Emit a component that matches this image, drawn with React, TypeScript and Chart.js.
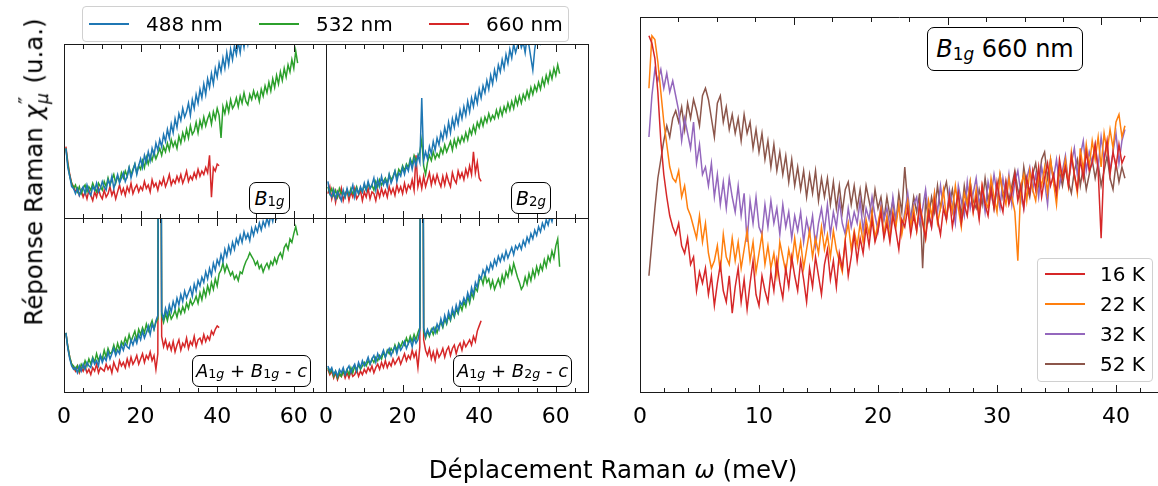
import React, { useEffect, useRef } from "react";
import { Chart, registerables } from "chart.js";

Chart.register(...registerables);

// ---------------- data ----------------
// left panels : x = LEFT_X_START + i * LEFT_X_STEP (meV), y in arbitrary units (0..100 = panel height)
const LEFT_X_START = 0.5;
const LEFT_X_STEP = 0.5;
// right panel : x = RIGHT_X_START + i * RIGHT_X_STEP (meV)
const RIGHT_X_START = 0.75;
const RIGHT_X_STEP = 0.25;

// Panel B1g
const b1g488 = [
  40,29,24,18,17,14,17,13,16,18, 14,19,15,13,18,16,20,15,17,21,
  18,16,22,19,24,17,21,25,20,23, 26,21,24,29,23,27,31,25,30,34,
  29,36,32,38,33,40,36,43,39,45, 41,48,44,51,46,54,49,57,52,60,
  56,63,58,61,66,59,68,63,71,66, 74,69,77,71,80,75,83,77,86,81,
  89,84,92,86,95,88,97,91,99,94, 101,95,104,98,106,100,108,103,110,105,112,107,114,109,
];
const b1g532 = [
  40,31,24,20,17,19,15,18,14,17, 19,15,18,16,20,17,15,20,18,16,
  21,18,23,19,22,25,20,24,21,26, 23,27,24,29,25,28,31,26,30,28,
  33,29,35,31,36,33,38,34,37,40, 36,41,38,43,39,45,41,44,40,47,
  43,49,45,51,46,53,48,50,55,49, 56,52,58,53,57,60,54,61,57,63,
  59,46,64,60,66,61,68,63,65,69, 64,70,66,72,67,65,71,68,73,69,
  72,67,74,70,76,72,78,73,80,75, 82,77,84,79,86,81,88,84,91,86,96,89,
];
const b1g660 = [
  41,32,25,20,18,15,17,13,16,12, 15,11,16,13,10,15,12,17,13,11,
  16,12,14,18,13,16,11,15,19,14, 17,13,18,15,20,14,17,19,15,18,
  16,21,17,19,15,22,18,20,16,21, 19,23,18,21,25,19,22,20,24,21,
  25,20,23,27,21,24,22,26,23,28, 24,27,25,29,26,36,12,29,27,31,30,
];

// Panel B2g
const b2g488 = [
  21,14,12,16,11,15,13,10,16,12, 17,13,15,19,12,17,14,18,15,20,
  16,21,17,19,23,16,22,18,24,19, 22,18,25,20,23,27,21,26,24,29,
  25,30,27,33,28,34,30,36,32,69, 33,38,34,41,37,44,39,46,42,49,
  45,52,47,55,49,57,52,59,54,62, 57,64,59,67,61,69,64,71,66,74,
  69,76,72,79,74,82,77,85,80,88, 84,91,86,94,89,97,92,100,95,99,
  103,98,101,95,104,99,92,85,97,104, 106,101,108,104,
];
const b2g532 = [
  18,14,17,13,16,12,17,14,15,12, 16,13,17,14,15,18,14,17,15,19,
  16,20,17,19,16,21,18,22,19,21, 23,20,25,22,24,27,23,28,26,30,
  27,31,29,34,31,36,33,35,38,45, 30,25,32,36,33,38,34,37,35,40,
  37,42,38,41,44,39,45,41,46,43, 47,44,49,45,51,48,53,49,55,52,
  57,53,58,55,60,56,59,57,62,58, 63,59,64,61,66,62,67,63,69,65,
  70,66,71,68,73,69,75,71,76,73, 78,74,80,76,82,78,84,80,86,82,88,83,
];
const b2g660 = [
  14,18,11,16,9,15,12,17,10,14, 16,10,15,12,17,11,13,16,10,15,
  12,17,11,15,14,10,16,12,17,13, 16,12,18,14,17,13,19,15,18,14,
  20,15,19,17,22,16,36,18,23,17, 24,18,22,26,19,24,20,25,21,18,
  24,19,25,21,18,26,22,20,27,23, 26,22,28,24,30,25,38,26,32,23,21,
];

// Panel A1g + B1g - c
const a1b1488 = [
  34,25,19,15,13,14,11,15,12,16, 13,17,15,14,19,16,18,15,21,17,
  20,18,23,19,22,25,21,24,22,27, 24,28,26,25,30,27,31,28,33,30,
  35,31,34,38,33,39,36,41,44,400, 46,42,48,44,50,46,52,48,54,50,
  56,52,58,54,57,60,55,62,58,64, 61,66,63,69,65,71,67,74,70,76,
  73,79,75,82,78,84,80,86,82,88, 85,90,86,92,88,91,87,94,90,95,
  92,97,93,98,95,100,96,102,98,104, 100,106,102,108,
];
const a1b1532 = [
  34,26,20,16,15,13,15,12,16,14, 18,15,19,16,20,17,22,18,21,19,
  24,20,25,22,23,27,23,28,24,29, 27,31,28,33,29,32,35,30,36,33,
  37,34,39,35,38,41,36,40,42,400, 44,40,45,41,46,42,44,47,43,48,
  45,49,46,51,48,53,50,52,55,51, 57,53,59,55,61,57,63,59,65,61,
  68,70,74,69,73,70,67,69,65,67, 64,69,68,72,75,77,80,78,76,73,
  75,71,73,69,72,74,71,75,73,77, 74,78,80,77,83,85,82,88,86,91,95,90,
];
const a1b1660 = [
  34,26,20,16,14,12,15,11,14,12, 15,11,13,10,14,12,16,11,14,13,
  12,16,13,15,11,17,14,12,18,15, 17,14,19,15,20,16,18,21,16,19,
  22,17,21,19,23,18,21,13,22,400, 32,26,30,25,28,24,29,23,27,30,
  24,28,26,31,25,29,27,32,26,30, 31,28,33,29,32,30,35,33,36,38,37,
];

// Panel A1g + B2g - c
const a1b2488 = [
  15,12,14,10,12,9,13,11,14,10, 13,15,11,14,16,12,17,14,18,15,
  17,20,16,19,21,17,22,19,21,24, 20,23,25,21,24,26,22,27,24,26,
  29,25,28,30,26,31,28,30,36,400, 37,32,36,33,35,37,34,39,36,42,
  38,44,40,46,42,48,44,50,46,52, 50,54,51,57,53,60,56,63,60,67,
  65,70,67,72,69,74,71,76,73,78, 75,79,76,81,77,80,83,79,84,82,
  85,82,87,84,89,86,91,88,93,90, 95,92,97,94,99,96,101,98,103,100,
];
const a1b2532 = [
  14,11,13,9,12,8,11,9,12,10, 13,10,14,11,15,12,16,13,15,17,
  15,18,16,19,17,20,18,21,19,23, 20,24,22,25,23,27,24,28,26,29,
  27,31,28,32,29,33,30,34,37,400, 35,31,35,32,36,33,37,34,38,40,
  37,42,39,44,41,46,43,48,45,50, 47,52,49,55,51,57,54,60,58,64,
  66,62,68,63,65,60,64,59,62,65, 61,67,63,69,66,72,68,74,70,66,
  63,59,61,66,62,68,64,70,66,72, 68,73,70,76,72,78,75,81,77,84,88,72,
];
const a1b2660 = [
  13,10,12,8,11,7,10,9,12,8, 11,8,12,9,10,13,9,12,10,13,
  11,14,12,15,11,14,16,13,17,14, 18,14,17,15,19,16,18,20,16,19,
  22,18,21,19,24,20,23,14,26,400, 30,24,21,25,19,23,18,24,20,22,
  25,20,24,26,21,25,27,22,26,28, 24,29,26,28,30,27,32,29,35,38,41,
];

// Right panel, B1g 660 nm, temperatures
const t16K = [
  95,93,89,80,67,58,52,47,44,42, 45,39,37,41,34,36,27,32,29,33,
  26,31,23,29,34,27,24,31,21,28, 33,24,30,22,29,35,26,23,31,27,
  24,32,27,35,29,25,33,28,36,31, 27,35,30,24,33,28,36,31,26,34,
  38,30,35,28,37,33,40,31,36,42, 35,41,37,44,39,46,40,43,48,41,
  45,40,47,43,38,46,44,49,42,47, 43,50,45,41,48,44,51,46,42,49,
  46,52,44,49,53,45,50,47,54,48, 52,46,55,50,47,54,49,56,51,48,
  56,50,53,58,51,55,49,57,53,59, 54,60,52,57,61,55,58,53,62,57,
  60,55,63,58,54,62,57,64,59,61, 66,59,41,62,67,58,64,60,66,61,63,
];
const t22K = [
  81,95,94,88,80,72,66,60,57,56, 59,52,55,49,47,44,41,47,40,45,
  37,33,35,39,32,42,36,34,41,35, 40,33,38,43,35,40,32,37,42,34,
  39,33,37,31,40,36,32,38,34,41, 35,40,33,38,43,36,41,37,44,38,
  42,36,43,38,35,32,41,45,38,43, 39,45,40,46,42,48,41,45,49,42,
  47,41,48,44,50,42,47,51,44,49, 43,50,46,41,51,47,53,45,49,54,
  46,52,48,55,49,44,53,50,56,48, 54,47,55,51,49,57,52,48,58,53,
  50,57,52,48,35,55,58,51,59,54, 51,58,55,60,53,62,56,50,60,57,
  62,55,64,58,53,65,59,66,60,67, 62,68,60,69,64,70,65,72,74,68,71,
];
const t32K = [
  68,79,86,83,86,81,85,80,83,79, 75,67,73,69,65,72,61,66,58,60,
  55,61,52,58,50,56,49,57,52,48, 55,47,53,40,51,45,52,44,42,50,
  44,51,45,49,42,50,44,48,41,47, 43,48,40,46,42,47,39,45,49,43,
  50,42,48,44,51,45,42,49,44,48, 45,51,43,49,46,52,47,43,50,46,
  49,44,52,46,50,43,48,53,46,50, 52,45,49,54,47,44,53,48,55,49,
  46,54,50,45,55,51,47,56,49,53, 57,50,54,48,56,52,58,53,49,57,
  52,58,50,56,59,53,49,57,60,54, 58,52,60,56,50,61,57,62,55,59,
  63,56,61,65,58,63,67,59,64,61, 66,60,68,62,66,59,64,69,61,67,70,
];
const t52K = [
  31,40,49,57,62,67,71,68,73,75, 72,76,70,77,73,78,75,71,79,81,
  78,73,68,77,79,72,76,70,74,69, 73,67,74,69,72,65,70,64,69,62,
  67,60,66,59,64,58,63,56,62,55, 60,54,59,52,58,53,59,51,57,52,
  57,50,56,49,55,48,54,56,50,55, 49,54,48,55,51,47,54,49,52,46,
  52,47,51,45,53,48,60,50,46,52, 48,53,33,51,46,52,48,55,49,53,
  56,50,54,48,53,47,55,50,56,51, 49,54,50,57,51,55,49,54,58,52,
  56,51,55,59,54,51,60,55,52,58, 61,55,62,64,57,62,56,53,59,55,
  60,56,53,59,62,55,60,54,58,62, 57,61,55,59,63,57,54,61,56,60,57,
];

// ticks
const LEFT_MAJOR_TICKS = [0, 20, 40, 60];
const LEFT_MINOR_TICKS = [5, 10, 15, 25, 30, 35, 45, 50, 55, 65];
const LEFT_TICK_LABELS = ["0", "20", "40", "60"];
const RIGHT_MAJOR_TICKS = [0, 10, 20, 30, 40];
const RIGHT_MINOR_TICKS = [2, 4, 6, 8, 12, 14, 16, 18, 22, 24, 26, 28, 32, 34, 36, 38, 42];
const RIGHT_TICK_LABELS = ["0", "10", "20", "30", "40"];
const RIGHT_TOP_MAJOR_K = [0, 150, 300, 450];
const RIGHT_TOP_MINOR_K = [37.5, 75, 112.5, 187.5, 225, 262.5, 337.5, 375, 412.5, 487.5];
const K_TO_MEV = 0.08617;

const WAVELENGTHS = ["488 nm", "532 nm", "660 nm"];
const TEMPERATURES = ["16 K", "22 K", "32 K", "52 K"];

// ---------------- style ----------------
const W = 1158;
const H = 486;
const FONT = '"DejaVu Sans", "Liberation Sans", sans-serif';
const C_BLUE = "#1f77b4";
const C_GREEN = "#2ca02c";
const C_RED = "#d62728";
const C_ORANGE = "#ff7f0e";
const C_PURPLE = "#9467bd";
const C_BROWN = "#8c564b";

const framePlugin = {
  id: "frame",
  afterDraw(chart: any, _args: any, opts: any) {
    const { ctx, chartArea } = chart;
    const xs = chart.scales.x;
    const l = Math.round(chartArea.left);
    const r = Math.round(chartArea.right);
    const t = Math.round(chartArea.top);
    const b = Math.round(chartArea.bottom);
    ctx.save();
    ctx.strokeStyle = "#1a1a1a";
    ctx.lineWidth = 1;
    ctx.beginPath();
    if (opts.spines.top) { ctx.moveTo(l, t + 0.5); ctx.lineTo(r + 1, t + 0.5); }
    if (opts.spines.bottom) { ctx.moveTo(l, b + 0.5); ctx.lineTo(r + 1, b + 0.5); }
    if (opts.spines.left) { ctx.moveTo(l + 0.5, t); ctx.lineTo(l + 0.5, b + 1); }
    if (opts.spines.right) { ctx.moveTo(r + 0.5, t); ctx.lineTo(r + 0.5, b + 1); }
    const tick = (v: number, len: number, top: boolean) => {
      const px = Math.round(xs.getPixelForValue(v)) + 0.5;
      if (px < l || px > r + 1) return;
      if (top) { ctx.moveTo(px, t); ctx.lineTo(px, t + len); }
      else { ctx.moveTo(px, b + 1); ctx.lineTo(px, b + 1 - len); }
    };
    (opts.bottomMajor || []).forEach((v: number) => tick(v, 8, false));
    (opts.bottomMinor || []).forEach((v: number) => tick(v, 5, false));
    (opts.topMajor || []).forEach((v: number) => tick(v, 8, true));
    (opts.topMinor || []).forEach((v: number) => tick(v, 5, true));
    ctx.stroke();
    if (opts.labels) {
      ctx.fillStyle = "#000";
      ctx.font = `22px ${FONT}`;
      ctx.textAlign = "center";
      ctx.textBaseline = "alphabetic";
      opts.labels.values.forEach((v: number, i: number) => {
        ctx.fillText(opts.labels.texts[i], xs.getPixelForValue(v), 423);
      });
    }
    ctx.restore();
  },
};

type Series = { data: number[]; start: number; step: number; color: string };
type Spec = {
  series: Series[];
  area: { left: number; right: number; top: number; bottom: number };
  xMax: number;
  frame: any;
};

const PX_PER_MEV_LEFT = 3.83;
const leftXMax = 262 / PX_PER_MEV_LEFT;
const rightXMax = (W - 640) / 11.9;

const leftSeries = (a: number[], b: number[], c: number[]): Series[] => [
  { data: a, start: LEFT_X_START, step: LEFT_X_STEP, color: C_BLUE },
  { data: b, start: LEFT_X_START, step: LEFT_X_STEP, color: C_GREEN },
  { data: c, start: LEFT_X_START, step: LEFT_X_STEP, color: C_RED },
];

const leftFrame = (withLabels: boolean) => ({
  spines: { top: true, bottom: true, left: true, right: true },
  bottomMajor: LEFT_MAJOR_TICKS,
  bottomMinor: LEFT_MINOR_TICKS,
  topMajor: LEFT_MAJOR_TICKS,
  topMinor: LEFT_MINOR_TICKS,
  labels: withLabels ? { values: LEFT_MAJOR_TICKS, texts: LEFT_TICK_LABELS } : null,
});

const SPECS: Spec[] = [
  { series: leftSeries(b1g488, b1g532, b1g660), area: { left: 64, right: 326, top: 44, bottom: 218 }, xMax: leftXMax, frame: leftFrame(false) },
  { series: leftSeries(b2g488, b2g532, b2g660), area: { left: 326, right: 588, top: 44, bottom: 218 }, xMax: leftXMax, frame: leftFrame(false) },
  { series: leftSeries(a1b1488, a1b1532, a1b1660), area: { left: 64, right: 326, top: 218, bottom: 392 }, xMax: leftXMax, frame: leftFrame(true) },
  { series: leftSeries(a1b2488, a1b2532, a1b2660), area: { left: 326, right: 588, top: 218, bottom: 392 }, xMax: leftXMax, frame: leftFrame(true) },
  {
    series: [
      { data: t16K, start: RIGHT_X_START, step: RIGHT_X_STEP, color: C_RED },
      { data: t22K, start: RIGHT_X_START, step: RIGHT_X_STEP, color: C_ORANGE },
      { data: t32K, start: RIGHT_X_START, step: RIGHT_X_STEP, color: C_PURPLE },
      { data: t52K, start: RIGHT_X_START, step: RIGHT_X_STEP, color: C_BROWN },
    ],
    area: { left: 640, right: W, top: 17, bottom: 392 },
    xMax: rightXMax,
    frame: {
      spines: { top: true, bottom: true, left: true, right: false },
      bottomMajor: RIGHT_MAJOR_TICKS,
      bottomMinor: RIGHT_MINOR_TICKS,
      topMajor: RIGHT_TOP_MAJOR_K.map((k) => k * K_TO_MEV),
      topMinor: RIGHT_TOP_MINOR_K.map((k) => k * K_TO_MEV),
      labels: { values: RIGHT_MAJOR_TICKS, texts: RIGHT_TICK_LABELS },
    },
  },
];

function Panel({ spec }: { spec: Spec }) {
  const ref = useRef<HTMLCanvasElement | null>(null);
  useEffect(() => {
    if (!ref.current) return;
    const { area } = spec;
    const chart = new Chart(ref.current, {
      type: "line",
      data: {
        datasets: spec.series.map((s) => ({
          data: s.data.map((v, i) => ({ x: s.start + i * s.step, y: v })),
          borderColor: s.color,
          borderWidth: 1.5,
          pointRadius: 0,
          tension: 0,
          fill: false,
          clip: 0,
        })),
      },
      options: {
        responsive: false,
        animation: false,
        events: [],
        layout: { padding: { left: area.left, right: W - area.right, top: area.top, bottom: H - area.bottom } },
        scales: {
          x: { type: "linear", min: 0, max: spec.xMax, display: false },
          y: { type: "linear", min: 0, max: 100, display: false },
        },
        plugins: {
          legend: { display: false },
          tooltip: { enabled: false },
          frame: spec.frame,
        } as any,
      },
      plugins: [framePlugin as any],
    });
    return () => chart.destroy();
  }, [spec]);
  return (
    <canvas
      ref={ref}
      width={W}
      height={H}
      style={{ position: "absolute", left: 0, top: 0, width: W, height: H }}
    />
  );
}

const Sub = ({ children }: { children: React.ReactNode }) => (
  <span style={{ fontSize: "0.7em", position: "relative", top: "0.3em" }}>{children}</span>
);

const boxStyle = (left: number, top: number, width: number, height: number, fontSize: number): React.CSSProperties => ({
  position: "absolute",
  left,
  top,
  width,
  height,
  boxSizing: "border-box",
  border: "1px solid #000",
  borderRadius: 7,
  background: "#fff",
  display: "flex",
  alignItems: "center",
  justifyContent: "center",
  fontFamily: FONT,
  fontSize,
  whiteSpace: "nowrap",
  lineHeight: 1,
  color: "#000",
});

export default function App() {
  const legendColors = [C_BLUE, C_GREEN, C_RED];
  const legendLineX = [89, 259, 429];
  const tempColors = [C_RED, C_ORANGE, C_PURPLE, C_BROWN];
  return (
    <div style={{ position: "absolute", left: 0, top: 0, width: W, height: H, background: "#fff", overflow: "hidden", fontFamily: FONT }}>
      {SPECS.map((s, i) => (
        <Panel key={i} spec={s} />
      ))}

      {/* top legend */}
      <div style={{ position: "absolute", left: 82, top: 6, width: 487, height: 36, boxSizing: "border-box", border: "1px solid #d0d0d0", borderRadius: 4, background: "rgba(255,255,255,0.8)" }} />
      {WAVELENGTHS.map((w, i) => (
        <React.Fragment key={w}>
          <div style={{ position: "absolute", left: legendLineX[i], top: 23, width: 40, height: 2, background: legendColors[i] }} />
          <div style={{ position: "absolute", left: legendLineX[i] + 57, top: 12, fontSize: 20, lineHeight: "24px", color: "#000" }}>{w}</div>
        </React.Fragment>
      ))}

      {/* right legend */}
      <div style={{ position: "absolute", left: 1037, top: 258, width: 116, height: 124, boxSizing: "border-box", border: "1px solid #d0d0d0", borderRadius: 4, background: "rgba(255,255,255,0.8)" }} />
      {TEMPERATURES.map((t, i) => (
        <React.Fragment key={t}>
          <div style={{ position: "absolute", left: 1045, top: 273 + i * 30, width: 40, height: 2, background: tempColors[i] }} />
          <div style={{ position: "absolute", left: 1100, top: 262 + i * 30, fontSize: 20, lineHeight: "24px", color: "#000" }}>{t}</div>
        </React.Fragment>
      ))}

      {/* annotation boxes */}
      <div style={boxStyle(249, 182, 41, 32, 19)}>
        <i>B</i><Sub>1<i>g</i></Sub>
      </div>
      <div style={boxStyle(511, 182, 40, 32, 19)}>
        <i>B</i><Sub>2<i>g</i></Sub>
      </div>
      <div style={boxStyle(192, 355, 119, 32, 18)}>
        <i>A</i><Sub>1<i>g</i></Sub>&nbsp;+&nbsp;<i>B</i><Sub>1<i>g</i></Sub>&nbsp;-&nbsp;<i>c</i>
      </div>
      <div style={boxStyle(453, 355, 119, 32, 18)}>
        <i>A</i><Sub>1<i>g</i></Sub>&nbsp;+&nbsp;<i>B</i><Sub>2<i>g</i></Sub>&nbsp;-&nbsp;<i>c</i>
      </div>
      <div style={boxStyle(927, 27, 156, 44, 24)}>
        <i>B</i><Sub>1<i>g</i></Sub>&nbsp;660 nm
      </div>

      {/* axis titles */}
      <div style={{ position: "absolute", left: 613, top: 458, transform: "translateX(-50%)", fontSize: 24.5, lineHeight: "24px", whiteSpace: "nowrap", color: "#000" }}>
        Déplacement Raman <i>ω</i> (meV)
      </div>
      <div style={{ position: "absolute", left: 33, top: 172, transform: "translate(-50%, -50%) rotate(-90deg)", fontSize: 24.5, lineHeight: "30px", whiteSpace: "nowrap", color: "#000" }}>
        Réponse Raman <i>χ</i>
        <span style={{ display: "inline-block", position: "relative", width: "0.55em", height: "1em" }}>
          <span style={{ position: "absolute", left: "0.05em", top: "-0.3em", fontSize: "0.8em" }}>″</span>
          <i style={{ position: "absolute", left: "0.05em", top: "0.6em", fontSize: "0.7em" }}>μ</i>
        </span>
        {" "}(u.a.)
      </div>
    </div>
  );
}
